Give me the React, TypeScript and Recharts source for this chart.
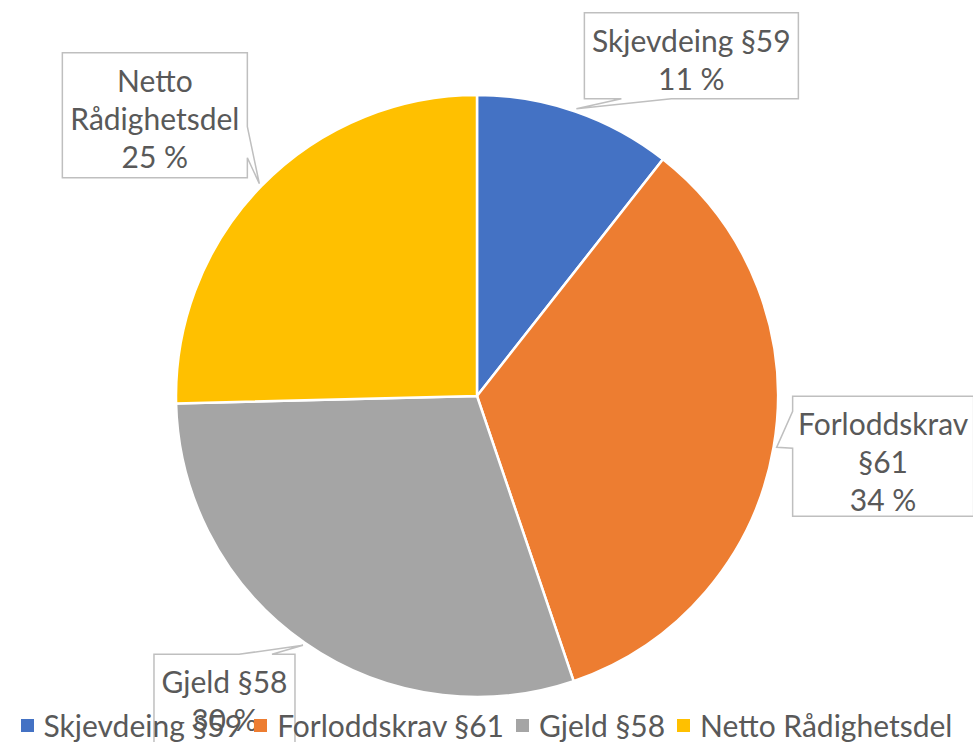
import React from 'react';
import { PieChart, Pie, Cell, Legend } from 'recharts';

const categories = ['Skjevdeing §59', 'Forloddskrav §61', 'Gjeld §58', 'Netto Rådighetsdel'];
const values = [10.6, 34.2, 29.8, 25.4];
const colors = ['#4472C4', '#ED7D31', '#A5A5A5', '#FFC000'];

const data = categories.map((name, i) => ({ name, value: values[i] }));

const FONT = 'Lato, "Open Sans", sans-serif';
const TEXT = '#595959';
const RADIAN = Math.PI / 180;

// callout box layout: offsets from pointer tip, size, pointer side and base span along that side
const callouts = [
  { dx: 8, dy: -96, w: 214, h: 86, side: 'bottom', b0: 37, b1: 87, wrap: false },
  { dx: 16, dy: -51, w: 181, h: 120, side: 'left', b0: 15, b1: 52, wrap: true },
  { dx: -149, dy: 9, w: 141, h: 110, side: 'top', b0: 85, b1: 118, wrap: false },
  { dx: -197, dy: -131, w: 185, h: 125, side: 'right', b0: 74, b1: 105, wrap: true },
];

function calloutPath(x: number, y: number, w: number, h: number, side: string, b0: number, b1: number, tx: number, ty: number) {
  const p = (a: number, b: number) => `${a},${b}`;
  switch (side) {
    case 'top':
      return `M${p(x, y)} L${p(x + b0, y)} L${p(tx, ty)} L${p(x + b1, y)} L${p(x + w, y)} L${p(x + w, y + h)} L${p(x, y + h)} Z`;
    case 'right':
      return `M${p(x, y)} L${p(x + w, y)} L${p(x + w, y + b0)} L${p(tx, ty)} L${p(x + w, y + b1)} L${p(x + w, y + h)} L${p(x, y + h)} Z`;
    case 'bottom':
      return `M${p(x, y)} L${p(x + w, y)} L${p(x + w, y + h)} L${p(x + b1, y + h)} L${p(tx, ty)} L${p(x + b0, y + h)} L${p(x, y + h)} Z`;
    default:
      return `M${p(x, y)} L${p(x + w, y)} L${p(x + w, y + h)} L${p(x, y + h)} L${p(x, y + b1)} L${p(tx, ty)} L${p(x, y + b0)} Z`;
  }
}

const renderLabel = (props: any) => {
  const { cx, cy, midAngle, outerRadius, percent, index, name } = props;
  const c = callouts[index];
  const r = outerRadius + 3;
  const tx = cx + r * Math.cos(-midAngle * RADIAN);
  const ty = cy + r * Math.sin(-midAngle * RADIAN);
  const x = tx + c.dx;
  const y = ty + c.dy;
  const nameLines = c.wrap ? [name.slice(0, name.indexOf(' ')), name.slice(name.indexOf(' ') + 1)] : [name];
  const lines = [...nameLines, `${Math.round(percent * 100)} %`];
  return (
    <g key={`lbl-${index}`}>
      <path d={calloutPath(x, y, c.w, c.h, c.side, c.b0, c.b1, tx, ty)} fill="#ffffff" stroke="#BFBFBF" strokeWidth={1.5} />
      {lines.map((t, i) => (
        <text key={i} x={x + c.w / 2} y={y + 27 + i * 38} textAnchor="middle" dominantBaseline="central"
          fontFamily={FONT} fontSize={30} fill={TEXT}>{t}</text>
      ))}
    </g>
  );
};

const renderLegend = (props: any) => {
  const payload = [...(props.payload || [])].sort(
    (a: any, b: any) => categories.indexOf(a.value) - categories.indexOf(b.value)
  );
  return (
    <div style={{ display: 'flex', justifyContent: 'center', alignItems: 'center', height: 34, fontFamily: FONT, fontSize: 30, color: TEXT }}>
      {payload.map((e: any, i: number) => (
        <div key={i} style={{ display: 'flex', alignItems: 'center', marginRight: i < payload.length - 1 ? 12 : 0 }}>
          <span style={{ display: 'inline-block', width: 13, height: 13, background: e.color, marginRight: 10 }} />
          <span style={{ whiteSpace: 'nowrap', lineHeight: '34px' }}>{e.value}</span>
        </div>
      ))}
    </div>
  );
};

export default function App() {
  return (
    <div style={{ position: 'absolute', left: 0, top: 0, width: 973, height: 742, background: '#fff', overflow: 'hidden' }}>
      <PieChart width={973} height={742} margin={{ top: 0, right: 0, bottom: 0, left: 0 }}>
        <Pie
          data={data}
          dataKey="value"
          nameKey="name"
          cx={477}
          cy={396}
          outerRadius={301}
          startAngle={90}
          endAngle={-270}
          stroke="#ffffff"
          strokeWidth={2.5}
          label={renderLabel}
          labelLine={false}
          isAnimationActive={false}
        >
          {data.map((d, i) => (
            <Cell key={d.name} fill={colors[i]} />
          ))}
        </Pie>
        <Legend verticalAlign="bottom" content={renderLegend} wrapperStyle={{ bottom: 0 }} />
      </PieChart>
    </div>
  );
}
